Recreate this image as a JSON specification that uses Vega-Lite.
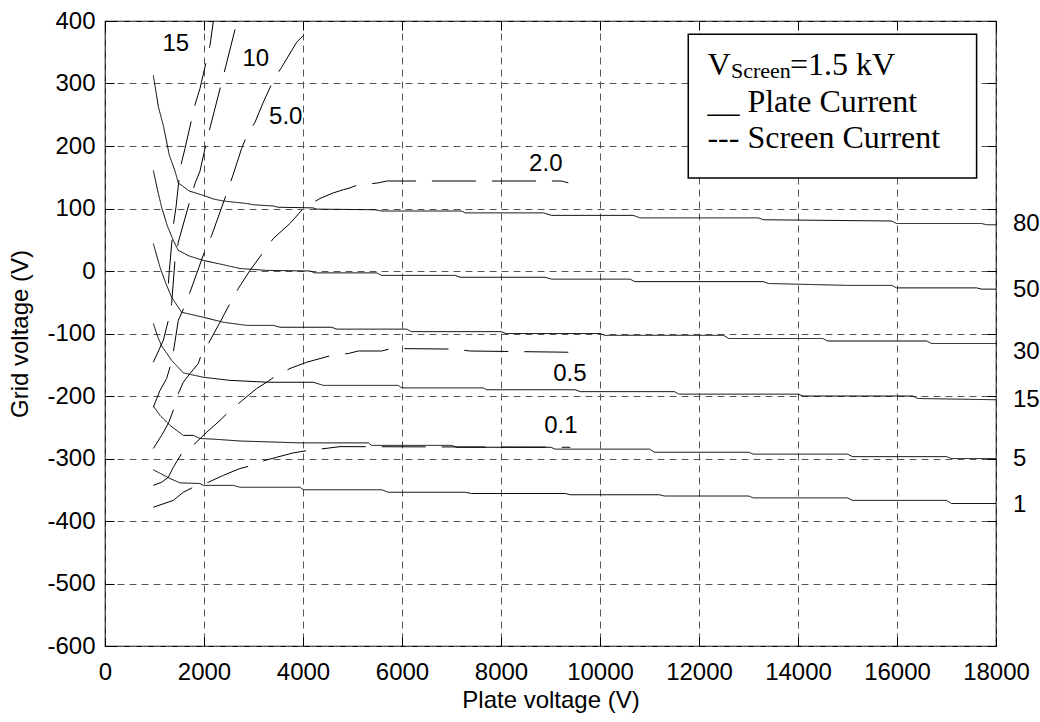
{
"$schema": "https://vega.github.io/schema/vega-lite/v6.json",
"width": 891, "height": 625,
"autosize": {"type": "none"},
"padding": {"left": 105, "top": 21, "right": 44, "bottom": 76},
"background": "white",
"config": {
  "view": {"stroke": "#000", "strokeWidth": 1.2},
  "axis": {"labelFont": "Liberation Sans", "labelFontSize": 24, "labelColor": "#000", "titleFont": "Liberation Sans", "titleFontSize": 24, "titleFontWeight": "normal", "titleColor": "#000", "tickColor": "#000", "tickSize": -9, "domain": false, "gridColor": "#555", "gridDash": [7, 5], "gridOpacity": 1, "gridWidth": 1, "labelOverlap": false, "labelFlush": false}
},
"datasets": {
  "curves": [
    {"s":"p80","k":"plate","x":976,"y":313},{"s":"p80","k":"plate","x":1080,"y":262},{"s":"p80","k":"plate","x":1178,"y":233},{"s":"p80","k":"plate","x":1300,"y":185},{"s":"p80","k":"plate","x":1414,"y":160},{"s":"p80","k":"plate","x":1481,"y":141},{"s":"p80","k":"plate","x":1700,"y":128},{"s":"p80","k":"plate","x":1986,"y":121},{"s":"p80","k":"plate","x":2200,"y":115},{"s":"p80","k":"plate","x":2390,"y":112},{"s":"p80","k":"plate","x":2862,"y":108},{"s":"p80","k":"plate","x":3000,"y":106},{"s":"p80","k":"plate","x":3400,"y":104},{"s":"p80","k":"plate","x":3500,"y":102},{"s":"p80","k":"plate","x":4200,"y":101},{"s":"p80","k":"plate","x":4276,"y":99},{"s":"p80","k":"plate","x":5454,"y":98},{"s":"p80","k":"plate","x":5589,"y":96},{"s":"p80","k":"plate","x":7205,"y":96},{"s":"p80","k":"plate","x":7272,"y":93},{"s":"p80","k":"plate","x":8855,"y":93},{"s":"p80","k":"plate","x":9023,"y":89},{"s":"p80","k":"plate","x":10673,"y":89},{"s":"p80","k":"plate","x":10807,"y":85},{"s":"p80","k":"plate","x":13200,"y":85},{"s":"p80","k":"plate","x":13300,"y":82},{"s":"p80","k":"plate","x":15891,"y":80},{"s":"p80","k":"plate","x":15992,"y":76},{"s":"p80","k":"plate","x":17709,"y":76},{"s":"p80","k":"plate","x":17810,"y":74},{"s":"p80","k":"plate","x":18000,"y":74},
    {"s":"p50","k":"plate","x":976,"y":161},{"s":"p50","k":"plate","x":1060,"y":130},{"s":"p50","k":"plate","x":1144,"y":102},{"s":"p50","k":"plate","x":1260,"y":72},{"s":"p50","k":"plate","x":1380,"y":49},{"s":"p50","k":"plate","x":1481,"y":33},{"s":"p50","k":"plate","x":1700,"y":24},{"s":"p50","k":"plate","x":1986,"y":17},{"s":"p50","k":"plate","x":2390,"y":10},{"s":"p50","k":"plate","x":2727,"y":4},{"s":"p50","k":"plate","x":3266,"y":1},{"s":"p50","k":"plate","x":4141,"y":0},{"s":"p50","k":"plate","x":4242,"y":-3},{"s":"p50","k":"plate","x":5488,"y":-3},{"s":"p50","k":"plate","x":5589,"y":-7},{"s":"p50","k":"plate","x":7070,"y":-7},{"s":"p50","k":"plate","x":7171,"y":-10},{"s":"p50","k":"plate","x":8888,"y":-10},{"s":"p50","k":"plate","x":9023,"y":-13},{"s":"p50","k":"plate","x":10605,"y":-13},{"s":"p50","k":"plate","x":10707,"y":-17},{"s":"p50","k":"plate","x":13300,"y":-17},{"s":"p50","k":"plate","x":13400,"y":-20},{"s":"p50","k":"plate","x":15000,"y":-23},{"s":"p50","k":"plate","x":15891,"y":-23},{"s":"p50","k":"plate","x":15992,"y":-27},{"s":"p50","k":"plate","x":17608,"y":-27},{"s":"p50","k":"plate","x":17709,"y":-29},{"s":"p50","k":"plate","x":18000,"y":-29},
    {"s":"p30","k":"plate","x":976,"y":44},{"s":"p30","k":"plate","x":1111,"y":6},{"s":"p30","k":"plate","x":1230,"y":-20},{"s":"p30","k":"plate","x":1346,"y":-42},{"s":"p30","k":"plate","x":1548,"y":-66},{"s":"p30","k":"plate","x":1986,"y":-74},{"s":"p30","k":"plate","x":2390,"y":-82},{"s":"p30","k":"plate","x":2862,"y":-87},{"s":"p30","k":"plate","x":3400,"y":-87},{"s":"p30","k":"plate","x":3535,"y":-90},{"s":"p30","k":"plate","x":4578,"y":-90},{"s":"p30","k":"plate","x":4679,"y":-93},{"s":"p30","k":"plate","x":6093,"y":-93},{"s":"p30","k":"plate","x":6194,"y":-97},{"s":"p30","k":"plate","x":8000,"y":-97},{"s":"p30","k":"plate","x":8100,"y":-100},{"s":"p30","k":"plate","x":10000,"y":-100},{"s":"p30","k":"plate","x":10100,"y":-103},{"s":"p30","k":"plate","x":12500,"y":-103},{"s":"p30","k":"plate","x":12600,"y":-108},{"s":"p30","k":"plate","x":14500,"y":-108},{"s":"p30","k":"plate","x":14600,"y":-112},{"s":"p30","k":"plate","x":16598,"y":-112},{"s":"p30","k":"plate","x":16699,"y":-116},{"s":"p30","k":"plate","x":18000,"y":-116},
    {"s":"p15","k":"plate","x":976,"y":-84},{"s":"p15","k":"plate","x":1060,"y":-104},{"s":"p15","k":"plate","x":1144,"y":-120},{"s":"p15","k":"plate","x":1260,"y":-133},{"s":"p15","k":"plate","x":1346,"y":-143},{"s":"p15","k":"plate","x":1582,"y":-163},{"s":"p15","k":"plate","x":1986,"y":-170},{"s":"p15","k":"plate","x":2525,"y":-175},{"s":"p15","k":"plate","x":3300,"y":-178},{"s":"p15","k":"plate","x":4208,"y":-178},{"s":"p15","k":"plate","x":4410,"y":-183},{"s":"p15","k":"plate","x":5925,"y":-183},{"s":"p15","k":"plate","x":5993,"y":-187},{"s":"p15","k":"plate","x":7643,"y":-187},{"s":"p15","k":"plate","x":7710,"y":-190},{"s":"p15","k":"plate","x":9500,"y":-190},{"s":"p15","k":"plate","x":9600,"y":-193},{"s":"p15","k":"plate","x":11500,"y":-193},{"s":"p15","k":"plate","x":11600,"y":-197},{"s":"p15","k":"plate","x":14000,"y":-197},{"s":"p15","k":"plate","x":14100,"y":-200},{"s":"p15","k":"plate","x":16321,"y":-200},{"s":"p15","k":"plate","x":16422,"y":-204},{"s":"p15","k":"plate","x":18000,"y":-206},
    {"s":"p5","k":"plate","x":976,"y":-216},{"s":"p5","k":"plate","x":1111,"y":-231},{"s":"p5","k":"plate","x":1313,"y":-247},{"s":"p5","k":"plate","x":1582,"y":-263},{"s":"p5","k":"plate","x":1784,"y":-263},{"s":"p5","k":"plate","x":1919,"y":-268},{"s":"p5","k":"plate","x":2188,"y":-269},{"s":"p5","k":"plate","x":2727,"y":-272},{"s":"p5","k":"plate","x":3939,"y":-275},{"s":"p5","k":"plate","x":5319,"y":-275},{"s":"p5","k":"plate","x":5387,"y":-279},{"s":"p5","k":"plate","x":7003,"y":-279},{"s":"p5","k":"plate","x":7104,"y":-282},{"s":"p5","k":"plate","x":9000,"y":-282},{"s":"p5","k":"plate","x":9100,"y":-285},{"s":"p5","k":"plate","x":11000,"y":-285},{"s":"p5","k":"plate","x":11100,"y":-290},{"s":"p5","k":"plate","x":13000,"y":-290},{"s":"p5","k":"plate","x":13100,"y":-293},{"s":"p5","k":"plate","x":15000,"y":-293},{"s":"p5","k":"plate","x":15100,"y":-297},{"s":"p5","k":"plate","x":17000,"y":-297},{"s":"p5","k":"plate","x":17100,"y":-300},{"s":"p5","k":"plate","x":18000,"y":-300},
    {"s":"p1","k":"plate","x":976,"y":-318},{"s":"p1","k":"plate","x":1313,"y":-332},{"s":"p1","k":"plate","x":1515,"y":-339},{"s":"p1","k":"plate","x":1919,"y":-340},{"s":"p1","k":"plate","x":1986,"y":-343},{"s":"p1","k":"plate","x":2592,"y":-343},{"s":"p1","k":"plate","x":2727,"y":-346},{"s":"p1","k":"plate","x":3939,"y":-346},{"s":"p1","k":"plate","x":4006,"y":-350},{"s":"p1","k":"plate","x":5589,"y":-350},{"s":"p1","k":"plate","x":5723,"y":-354},{"s":"p1","k":"plate","x":7272,"y":-354},{"s":"p1","k":"plate","x":7407,"y":-356},{"s":"p1","k":"plate","x":9300,"y":-356},{"s":"p1","k":"plate","x":9400,"y":-358},{"s":"p1","k":"plate","x":11200,"y":-358},{"s":"p1","k":"plate","x":11300,"y":-360},{"s":"p1","k":"plate","x":13000,"y":-360},{"s":"p1","k":"plate","x":13100,"y":-363},{"s":"p1","k":"plate","x":15000,"y":-363},{"s":"p1","k":"plate","x":15100,"y":-367},{"s":"p1","k":"plate","x":17000,"y":-367},{"s":"p1","k":"plate","x":17100,"y":-372},{"s":"p1","k":"plate","x":18000,"y":-372},
    {"s":"s15","k":"screen","x":1280,"y":-20},{"s":"s15","k":"screen","x":1300,"y":1},{"s":"s15","k":"screen","x":1380,"y":73},{"s":"s15","k":"screen","x":1434,"y":102},{"s":"s15","k":"screen","x":1520,"y":165},{"s":"s15","k":"screen","x":1616,"y":196},{"s":"s15","k":"screen","x":1818,"y":266},{"s":"s15","k":"screen","x":1919,"y":292},{"s":"s15","k":"screen","x":2121,"y":361},{"s":"s15","k":"screen","x":2190,"y":400},
    {"s":"s10","k":"screen","x":976,"y":-146},{"s":"s10","k":"screen","x":1178,"y":-111},{"s":"s10","k":"screen","x":1279,"y":-79},{"s":"s10","k":"screen","x":1346,"y":-52},{"s":"s10","k":"screen","x":1414,"y":17},{"s":"s10","k":"screen","x":1481,"y":46},{"s":"s10","k":"screen","x":1717,"y":113},{"s":"s10","k":"screen","x":1818,"y":140},{"s":"s10","k":"screen","x":1919,"y":160},{"s":"s10","k":"screen","x":2054,"y":208},{"s":"s10","k":"screen","x":2134,"y":233},{"s":"s10","k":"screen","x":2357,"y":302},{"s":"s10","k":"screen","x":2444,"y":329},{"s":"s10","k":"screen","x":2670,"y":400},
    {"s":"s5","k":"screen","x":976,"y":-218},{"s":"s5","k":"screen","x":1111,"y":-191},{"s":"s5","k":"screen","x":1245,"y":-172},{"s":"s5","k":"screen","x":1313,"y":-154},{"s":"s5","k":"screen","x":1380,"y":-130},{"s":"s5","k":"screen","x":1481,"y":-79},{"s":"s5","k":"screen","x":1600,"y":-58},{"s":"s5","k":"screen","x":1717,"y":-34},{"s":"s5","k":"screen","x":2020,"y":33},{"s":"s5","k":"screen","x":2155,"y":57},{"s":"s5","k":"screen","x":2457,"y":124},{"s":"s5","k":"screen","x":2592,"y":155},{"s":"s5","k":"screen","x":2760,"y":196},{"s":"s5","k":"screen","x":2862,"y":216},{"s":"s5","k":"screen","x":3030,"y":238},{"s":"s5","k":"screen","x":3198,"y":270},{"s":"s5","k":"screen","x":3400,"y":305},{"s":"s5","k":"screen","x":3569,"y":326},{"s":"s5","k":"screen","x":3872,"y":366},{"s":"s5","k":"screen","x":4107,"y":385},
    {"s":"s2","k":"screen","x":976,"y":-284},{"s":"s2","k":"screen","x":1144,"y":-263},{"s":"s2","k":"screen","x":1279,"y":-244},{"s":"s2","k":"screen","x":1380,"y":-223},{"s":"s2","k":"screen","x":1481,"y":-196},{"s":"s2","k":"screen","x":1582,"y":-178},{"s":"s2","k":"screen","x":1717,"y":-164},{"s":"s2","k":"screen","x":1885,"y":-148},{"s":"s2","k":"screen","x":1952,"y":-132},{"s":"s2","k":"screen","x":2104,"y":-114},{"s":"s2","k":"screen","x":2323,"y":-82},{"s":"s2","k":"screen","x":2525,"y":-52},{"s":"s2","k":"screen","x":2693,"y":-28},{"s":"s2","k":"screen","x":2929,"y":1},{"s":"s2","k":"screen","x":3198,"y":30},{"s":"s2","k":"screen","x":3400,"y":52},{"s":"s2","k":"screen","x":3737,"y":76},{"s":"s2","k":"screen","x":4006,"y":100},{"s":"s2","k":"screen","x":4343,"y":116},{"s":"s2","k":"screen","x":4612,"y":125},{"s":"s2","k":"screen","x":4814,"y":130},{"s":"s2","k":"screen","x":4949,"y":133},{"s":"s2","k":"screen","x":5084,"y":137},{"s":"s2","k":"screen","x":5185,"y":138},{"s":"s2","k":"screen","x":5521,"y":141},{"s":"s2","k":"screen","x":5690,"y":144},{"s":"s2","k":"screen","x":9225,"y":144},{"s":"s2","k":"screen","x":9360,"y":141},
    {"s":"s05","k":"screen","x":976,"y":-343},{"s":"s05","k":"screen","x":1144,"y":-338},{"s":"s05","k":"screen","x":1279,"y":-330},{"s":"s05","k":"screen","x":1380,"y":-314},{"s":"s05","k":"screen","x":1548,"y":-292},{"s":"s05","k":"screen","x":1818,"y":-276},{"s":"s05","k":"screen","x":2054,"y":-258},{"s":"s05","k":"screen","x":2323,"y":-239},{"s":"s05","k":"screen","x":2491,"y":-226},{"s":"s05","k":"screen","x":2727,"y":-210},{"s":"s05","k":"screen","x":3064,"y":-188},{"s":"s05","k":"screen","x":3266,"y":-178},{"s":"s05","k":"screen","x":3468,"y":-167},{"s":"s05","k":"screen","x":3737,"y":-156},{"s":"s05","k":"screen","x":4074,"y":-146},{"s":"s05","k":"screen","x":4578,"y":-135},{"s":"s05","k":"screen","x":4915,"y":-132},{"s":"s05","k":"screen","x":5117,"y":-128},{"s":"s05","k":"screen","x":5589,"y":-128},{"s":"s05","k":"screen","x":5790,"y":-124},{"s":"s05","k":"screen","x":7070,"y":-125},{"s":"s05","k":"screen","x":7373,"y":-128},{"s":"s05","k":"screen","x":9400,"y":-130},
    {"s":"s01","k":"screen","x":976,"y":-378},{"s":"s01","k":"screen","x":1380,"y":-367},{"s":"s01","k":"screen","x":1582,"y":-354},{"s":"s01","k":"screen","x":1784,"y":-346},{"s":"s01","k":"screen","x":2087,"y":-338},{"s":"s01","k":"screen","x":2390,"y":-327},{"s":"s01","k":"screen","x":2727,"y":-316},{"s":"s01","k":"screen","x":2929,"y":-312},{"s":"s01","k":"screen","x":3232,"y":-303},{"s":"s01","k":"screen","x":3468,"y":-298},{"s":"s01","k":"screen","x":3804,"y":-291},{"s":"s01","k":"screen","x":4107,"y":-287},{"s":"s01","k":"screen","x":4444,"y":-284},{"s":"s01","k":"screen","x":4747,"y":-281},{"s":"s01","k":"screen","x":9400,"y":-282}
  ],
  "inlabels": [
    {"t":"15","x":1430,"y":363},{"t":"10","x":3047,"y":339},{"t":"5.0","x":3652,"y":247},{"t":"2.0","x":8905,"y":172},{"t":"0.5","x":9393,"y":-164},{"t":"0.1","x":9211,"y":-248}
  ],
  "rlabels": [
    {"t":"80","x":18342,"y":76},{"t":"50","x":18342,"y":-31},{"t":"30","x":18342,"y":-129},{"t":"15","x":18342,"y":-206},{"t":"5","x":18342,"y":-300},{"t":"1","x":18342,"y":-375}
  ],
  "box": [{"x":11783,"x2":17608,"y":378.7,"y2":148.8}],
  "legbig": [
    {"t":"V","x":12170,"y":313},{"t":"=1.5 kV","x":13837,"y":313},{"t":"__ Plate Current","x":12170,"y":254.5},{"t":"--- Screen Current","x":12170,"y":197.4}
  ],
  "legsmall": [{"t":"Screen","x":12645,"y":308.8}]
},
"layer": [
  {
    "data": {"name": "curves"},
    "mark": {"type": "line", "color": "#000", "strokeWidth": 1, "clip": true},
    "encoding": {
      "x": {"field": "x", "type": "quantitative", "scale": {"domain": [0, 18000], "nice": false, "zero": false},
            "axis": {"orient": "bottom", "values": [0,2000,4000,6000,8000,10000,12000,14000,16000,18000], "labelExpr": "toString(datum.value)", "grid": true, "title": "Plate voltage (V)", "labelPadding": 23, "titlePadding": 4}},
      "y": {"field": "y", "type": "quantitative", "scale": {"domain": [-600, 400], "nice": false, "zero": false},
            "axis": {"orient": "left", "values": [-600,-500,-400,-300,-200,-100,0,100,200,300,400], "labelExpr": "toString(datum.value)", "grid": true, "title": "Grid voltage (V)", "labelPadding": 19, "titlePadding": 14}},
      "detail": {"field": "s"},
      "strokeDash": {"field": "k", "type": "nominal", "scale": {"domain": ["plate", "screen"], "range": [[1, 0], [44, 16]]}, "legend": null},
      "order": {"field": "x", "type": "quantitative"}
    }
  },
  {
    "data": {"name": "box"},
    "mark": {"type": "rect", "fill": "#fff", "stroke": "#000", "strokeWidth": 1.5},
    "encoding": {
      "x": {"field": "x", "type": "quantitative", "axis": {"orient": "top", "values": [0,2000,4000,6000,8000,10000,12000,14000,16000,18000], "labels": false, "grid": false, "title": null}},
      "x2": {"field": "x2"},
      "y": {"field": "y", "type": "quantitative", "axis": {"orient": "right", "values": [-600,-500,-400,-300,-200,-100,0,100,200,300,400], "labels": false, "grid": false, "title": null}},
      "y2": {"field": "y2"}
    }
  },
  {
    "data": {"name": "inlabels"},
    "mark": {"type": "text", "font": "Liberation Sans", "fontSize": 24, "color": "#000", "align": "center", "baseline": "middle"},
    "encoding": {
      "x": {"field": "x", "type": "quantitative", "axis": null},
      "y": {"field": "y", "type": "quantitative", "axis": null},
      "text": {"field": "t"}
    }
  },
  {
    "data": {"name": "rlabels"},
    "mark": {"type": "text", "font": "Liberation Sans", "fontSize": 24, "color": "#000", "align": "left", "baseline": "middle"},
    "encoding": {
      "x": {"field": "x", "type": "quantitative", "axis": null},
      "y": {"field": "y", "type": "quantitative", "axis": null},
      "text": {"field": "t"}
    }
  },
  {
    "data": {"name": "legbig"},
    "mark": {"type": "text", "font": "Liberation Serif", "fontSize": 32, "color": "#000", "align": "left", "baseline": "alphabetic"},
    "encoding": {
      "x": {"field": "x", "type": "quantitative", "axis": null},
      "y": {"field": "y", "type": "quantitative", "axis": null},
      "text": {"field": "t"}
    }
  },
  {
    "data": {"name": "legsmall"},
    "mark": {"type": "text", "font": "Liberation Serif", "fontSize": 22, "color": "#000", "align": "left", "baseline": "alphabetic"},
    "encoding": {
      "x": {"field": "x", "type": "quantitative", "axis": null},
      "y": {"field": "y", "type": "quantitative", "axis": null},
      "text": {"field": "t"}
    }
  }
],
"resolve": {"axis": {"x": "independent", "y": "independent"}}
}
